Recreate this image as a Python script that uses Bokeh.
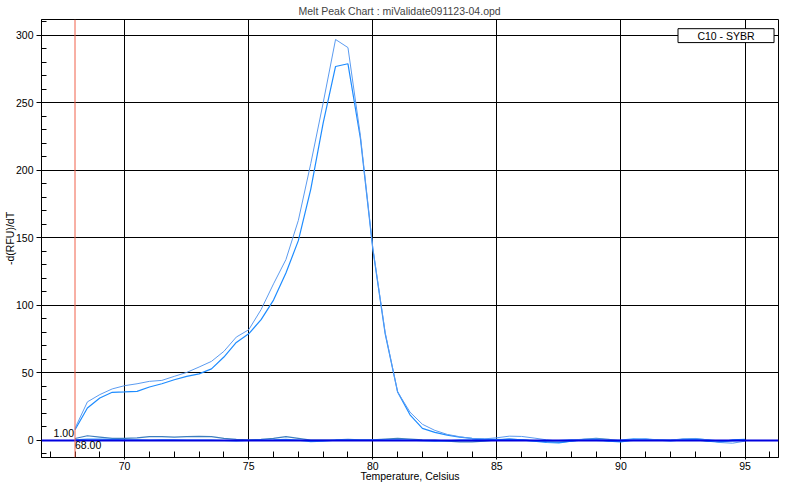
from bokeh.plotting import figure
from bokeh.models import Range1d, Span, Label, BoxAnnotation, SingleIntervalTicker
from bokeh.embed import file_html
from bokeh.resources import INLINE

# ---- data ----
temperature = [68.0, 68.5, 69.0, 69.5, 70.0, 70.5, 71.0, 71.5, 72.0, 72.5,
               73.0, 73.5, 74.0, 74.5, 75.0, 75.5, 76.0, 76.5, 77.0, 77.5,
               78.0, 78.5, 79.0, 79.5, 80.0, 80.5, 81.0, 81.5, 82.0, 82.5,
               83.0, 83.5, 84.0, 84.5, 85.0, 85.5, 86.0, 86.5, 87.0, 87.5,
               88.0, 88.5, 89.0, 89.5, 90.0, 90.5, 91.0, 91.5, 92.0, 92.5,
               93.0, 93.5, 94.0, 94.5, 95.0]

sample_a = [9, 28.6, 34, 38.2, 40.6, 42, 43.8, 44.5, 47.5, 50.4,
            54.4, 58.6, 66, 76.6, 82, 97, 116, 134, 163, 205,
            250, 297, 291, 226, 143, 80, 36, 21, 12, 7.5,
            4.5, 2.8, 1.5, 1.2, 2.0, 3.2, 3.0, 1.8, 0.5, -0.5,
            0.3, 1.0, 1.2, 0.5, 0.0, 0.8, 1.0, 0.5, 0.3, 1.2,
            1.5, 0.5, -1.5, -2.0, -0.5]

sample_b = [8, 24.1, 31.5, 35.7, 36, 36.4, 39.6, 42, 45, 47.5,
            49.3, 53, 61.8, 72.6, 79, 89.5, 104, 124, 148, 186,
            235, 277, 279, 224, 142, 79, 36, 19, 9, 6,
            4, 2.5, 1.5, 0.8, 0.5, 1.0, 0.5, -0.5, -1.5, -1.8,
            -0.5, 0.5, 0.8, -0.5, -1.0, 0.5, 0.8, 0.2, -0.3, 0.5,
            1.0, -0.5, -1.2, 0.5, 0.8]

noise_1 = [1.5, 3.5, 2.5, 1.5, 1.5, 2.0, 2.8, 2.8, 2.5, 2.8,
           3.0, 2.8, 1.5, 0.8, 0.5, 0.8, 1.5, 2.8, 1.5, 0.2,
           0.3, 0.5, 0.8, 0.5, 0.5, 1.0, 1.5, 1.0, 0.5, 0.2,
           -0.5, -1.0, -1.0, -0.5, 0.5, 1.0, 0.5, 0.0, -0.8, -1.2,
           -0.5, 0.8, 1.5, 0.8, -0.5, 0.0, 0.5, 0.3, 0.0, 0.8,
           0.5, -0.5, -0.8, 0.0, 0.5]

noise_2 = [0.5, 1.0, 1.0, 0.8, 0.5, 0.5, 0.3, 0.5, 0.5, 0.3,
           0.2, 0.3, 0.0, -0.3, 0.0, 0.3, 0.5, 0.8, 0.2, -0.8,
           -0.5, 0.2, 0.5, 0.3, 0.2, 0.5, 0.5, 0.2, -0.2, -0.5,
           -0.3, 0.2, 0.5, 1.0, 0.8, 0.5, 0.2, -0.3, -0.5, 0.0,
           0.5, 0.3, 0.0, -0.3, 0.2, 1.2, 1.0, 0.5, 0.2, 0.8,
           1.2, 0.5, -0.5, -0.3, 0.3]

cursor_temperature = 68.0
cursor_value_text = "1.00"
cursor_temp_text = "68.00"
legend_text = "C10 - SYBR"
title_text = "Melt Peak Chart : miValidate091123-04.opd"

FONT = "Liberation Sans"
FS = "10.5px"

p = figure(width=784, height=484,
           x_range=Range1d(66.65, 96.35), y_range=Range1d(-12.6, 311.8),
           output_backend="svg", toolbar_location=None,
           title=title_text,
           min_border_left=0, min_border_right=6,
           min_border_top=19, min_border_bottom=0,
           background_fill_color="white", border_fill_color="white")

p.title.text_font = FONT
p.title.text_font_size = FS
p.title.text_font_style = "normal"
p.title.align = "left"
p.title.standoff = 5
p.title.offset = 257

p.xaxis.ticker = SingleIntervalTicker(interval=5, num_minor_ticks=5)
p.yaxis.ticker = SingleIntervalTicker(interval=50, num_minor_ticks=5)

for ax in (p.xaxis[0], p.yaxis[0]):
    ax.axis_line_color = "black"
    ax.major_tick_line_color = "black"
    ax.minor_tick_line_color = "black"
    ax.major_label_text_font = FONT
    ax.major_label_text_font_size = FS
    ax.major_label_text_color = "black"
    ax.axis_label_text_font = FONT
    ax.axis_label_text_font_size = FS
    ax.axis_label_text_font_style = "normal"
    ax.axis_label_text_color = "black"

p.xaxis.axis_label = "Temperature, Celsius"
p.xaxis.major_tick_in = 0
p.xaxis.major_tick_out = 2
p.xaxis.minor_tick_in = 6
p.xaxis.minor_tick_out = 0
p.xaxis.major_label_standoff = 2
p.xaxis.axis_label_standoff = -3

p.yaxis.axis_label = "-d(RFU)/dT"
p.yaxis.major_tick_in = 0
p.yaxis.major_tick_out = 5
p.yaxis.minor_tick_in = 5
p.yaxis.minor_tick_out = 0
p.yaxis.major_label_standoff = 3
p.yaxis.axis_label_standoff = -3

p.grid.grid_line_color = "black"
p.grid.grid_line_alpha = 1.0
p.grid.grid_line_width = 1
p.outline_line_color = "black"
p.outline_line_alpha = 1.0

p.line(temperature, noise_1, line_color="#3d7ebf", line_width=1.2)
p.line(temperature, noise_2, line_color="#3399ff", line_width=1.2)
p.line(temperature, sample_b, line_color="#1e8cff", line_width=1.2)
p.line(temperature, sample_a, line_color="#5b9bf0", line_width=1.0)

p.add_layout(Span(location=0, dimension="width", line_color="#0000e0", line_width=2))
p.add_layout(Span(location=cursor_temperature, dimension="height",
                  line_color="#f0604a", line_width=1))

p.add_layout(Label(x=cursor_temperature, y=0, text=cursor_value_text,
                   text_align="right", text_baseline="bottom",
                   x_offset=-1, y_offset=3, text_font=FONT, text_font_size=FS,
                   text_color="black"))
p.add_layout(Label(x=cursor_temperature, y=0, text=cursor_temp_text,
                   text_align="left", text_baseline="top",
                   x_offset=0, y_offset=-1, text_font=FONT, text_font_size=FS,
                   text_color="black"))

p.add_layout(BoxAnnotation(left=92.3, right=96.17, bottom=294.7, top=305.0,
                           fill_color="white", fill_alpha=1.0,
                           line_color="black", line_width=1, line_alpha=1.0))
p.add_layout(Label(x=(92.3 + 96.17) / 2, y=(294.7 + 305.0) / 2, text=legend_text,
                   text_align="center", text_baseline="middle",
                   text_font=FONT, text_font_size=FS, text_color="black"))

open("out.html", "w").write(file_html(p, INLINE))
